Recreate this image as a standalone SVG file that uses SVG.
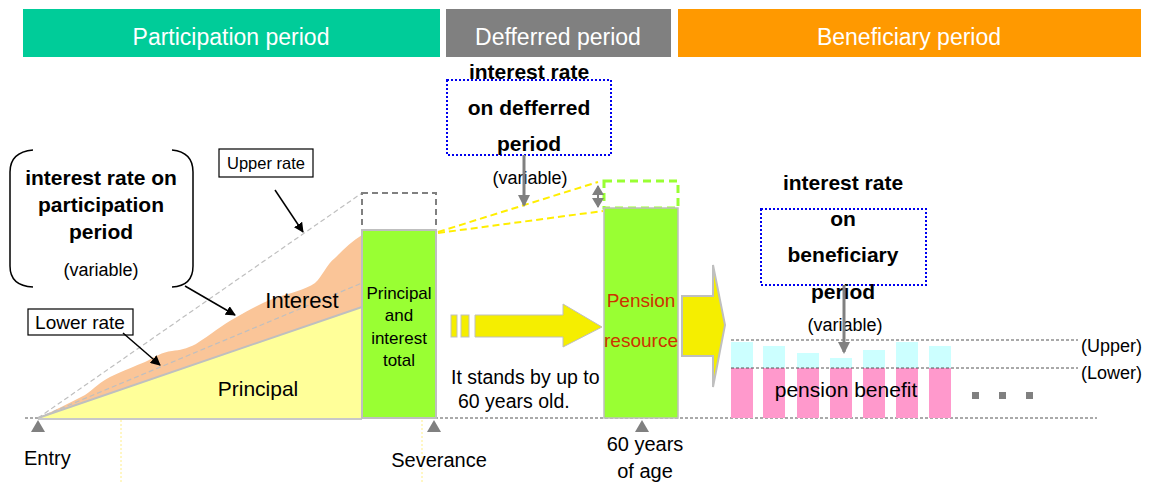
<svg xmlns="http://www.w3.org/2000/svg" width="1157" height="484" viewBox="0 0 1157 484">
<defs>
<style>
text{font-family:"Liberation Sans",Arial,sans-serif;}
.hdr{fill:#fff;font-size:23px;text-anchor:middle;}
.b{font-weight:bold;font-size:21px;text-anchor:middle;fill:#000;}
.n{font-size:17px;fill:#000;}
.v{font-size:18px;fill:#000;text-anchor:middle;}
.c{text-anchor:middle;}
.tri{fill:#808080;}
.ax{stroke:#555;stroke-width:1;stroke-dasharray:3,2;fill:none;}
.ydot{stroke:#FFEE88;stroke-width:1;stroke-dasharray:2,2;}
</style>
<marker id="ab" markerWidth="10" markerHeight="10" refX="9" refY="5" orient="auto" markerUnits="userSpaceOnUse" viewBox="0 0 10 10"><path d="M0,0 L10,5 L0,10 z" fill="#000"/></marker>
<marker id="ag" markerWidth="12" markerHeight="12" refX="10" refY="6" orient="auto" markerUnits="userSpaceOnUse" viewBox="0 0 12 12"><path d="M0,0 L12,6 L0,12 z" fill="#808080"/></marker>
<marker id="ag2" markerWidth="10" markerHeight="12" refX="9" refY="6" orient="auto-start-reverse" markerUnits="userSpaceOnUse" viewBox="0 0 10 12"><path d="M0,0 L10,6 L0,12 z" fill="#808080"/></marker>
</defs>
<rect width="1157" height="484" fill="#fff"/>

<g id="headers">
<rect x="23" y="9" width="417" height="48" fill="#00CC99"/>
<text class="hdr" x="231" y="45">Participation period</text>
<rect x="446" y="9" width="225" height="48" fill="#808080"/>
<text class="hdr" x="558" y="45">Defferred period</text>
<rect x="678" y="9" width="463" height="48" fill="#FF9900"/>
<text class="hdr" x="909" y="45">Beneficiary period</text>
</g>

<g id="axis">
<line class="ydot" x1="121" y1="420" x2="121" y2="484"/>
<line class="ydot" x1="422" y1="420" x2="422" y2="484"/>
<line class="ax" x1="25" y1="418" x2="1097" y2="418"/>
<polygon class="tri" points="31,432 38,420 45,432"/>
<polygon class="tri" points="427,432 434,420 441,432"/>
<polygon class="tri" points="635,432 642,420 649,432"/>
<text x="24" y="465" style="font-size:20px">Entry</text>
<text x="439" y="467" class="c" style="font-size:20px">Severance</text>
<text x="645" y="451" class="c" style="font-size:20px">60 years</text>
<text x="645" y="478" class="c" style="font-size:20px">of age</text>
</g>

<g id="participation">
<path d="M38,418 C55,410 70,403 85,395 C95,388 100,382 110,377 C125,370 135,366 145,362 C155,357 162,352 172,351 C180,350 186,349 196,344 C210,335 222,325 235,318 C250,309 260,304 275,298 C290,293 305,290 315,283 C322,277 326,265 335,258 C344,249 352,241 362,235 L362,307 Z" fill="#FAC598"/>
<polygon points="38,418 362,307 362,418" fill="#FFFF99"/>
<line x1="38" y1="418" x2="362" y2="307" stroke="#BFBFBF" stroke-width="2"/>
<line x1="38" y1="419" x2="362" y2="419" stroke="#C8C8C8" stroke-width="2"/>
<line x1="38" y1="418" x2="362" y2="193" stroke="#BFBFBF" stroke-width="1.2" stroke-dasharray="5,3"/>
<line x1="38" y1="418" x2="362" y2="283" stroke="#BFBFBF" stroke-width="1.2" stroke-dasharray="5,3"/>
<text x="302" y="308" class="c" style="font-size:22px">Interest</text>
<text x="258" y="396" class="c" style="font-size:21px">Principal</text>
</g>

<g id="total-box">
<rect x="362" y="193" width="74" height="37" fill="none" stroke="#808080" stroke-width="2" stroke-dasharray="6,4"/>
<rect x="362" y="230" width="74" height="188" fill="#99FF33" stroke="#BFBFBF" stroke-width="2"/>
<text class="n c" x="399" y="299">Principal</text>
<text class="n c" x="399" y="321">and</text>
<text class="n c" x="399" y="344">interest</text>
<text class="n c" x="399" y="366">total</text>
</g>

<g id="participation-rate">
<path d="M33,150 Q10,152 10,172 L10,266 Q10,286 33,287" fill="none" stroke="#000" stroke-width="1.5"/>
<path d="M172,150 Q193,152 193,172 L193,266 Q193,286 172,287" fill="none" stroke="#000" stroke-width="1.5"/>
<text class="b" x="101" y="185">interest rate on</text>
<text class="b" x="101" y="212">participation</text>
<text class="b" x="101" y="239">period</text>
<text class="v" x="101" y="276">(variable)</text>
</g>

<g id="upper-rate">
<rect x="219" y="149" width="94" height="28" fill="#fff" stroke="#000" stroke-width="1.2"/>
<text class="c" x="266" y="169" style="font-size:16.5px">Upper rate</text>
</g>
<g id="lower-rate">
<rect x="28" y="309" width="105" height="26" fill="#fff" stroke="#000" stroke-width="1.2"/>
<text class="c" x="80" y="329" style="font-size:19px">Lower rate</text>
</g>

<g id="deferred-rate">
<rect x="447" y="80" width="164" height="75" fill="none" stroke="#0000EE" stroke-width="2" stroke-dasharray="2,2"/>
<text class="b" x="529" y="79">interest rate</text>
<text class="b" x="529" y="115">on defferred</text>
<text class="b" x="529" y="151">period</text>
<text class="v" x="530" y="184">(variable)</text>
</g>

<g id="pension-resource">
<rect x="604" y="181" width="74" height="27" fill="none" stroke="#99FF33" stroke-width="3" stroke-dasharray="8,5"/>
<rect x="604" y="208" width="74" height="210" fill="#99FF33" stroke="#BFBFBF" stroke-width="1.5"/>
<text class="c" x="641" y="307" style="font-size:19px;fill:#CC3300">Pension</text>
<text class="c" x="641" y="347" style="font-size:19px;fill:#CC3300">resource</text>
</g>

<g id="standby">
<rect x="451" y="315" width="6" height="22" fill="#F5EE00" stroke="#BFBFBF" stroke-width="1"/>
<rect x="461" y="315" width="8" height="22" fill="#F5EE00" stroke="#BFBFBF" stroke-width="1"/>
<polygon points="475,315 563,315 563,304 602,327 563,347 563,337 475,337" fill="#F5EE00" stroke="#BFBFBF" stroke-width="1"/>
<text x="451" y="384" style="font-size:19.5px">It stands by up to</text>
<text x="458" y="408" style="font-size:19.5px">60 years old.</text>
</g>

<g id="big-arrow">
<polygon points="682,296 713,296 713,265 725,325 713,387 713,356 682,356" fill="#F5EE00" stroke="#BFBFBF" stroke-width="2"/>
</g>

<g id="benefits">
<rect x="731" y="342" width="22" height="26" fill="#CCFFFF"/>
<rect x="763" y="346" width="22" height="22" fill="#CCFFFF"/>
<rect x="797" y="353" width="22" height="15" fill="#CCFFFF"/>
<rect x="830" y="358" width="22" height="10" fill="#CCFFFF"/>
<rect x="863" y="350" width="22" height="18" fill="#CCFFFF"/>
<rect x="896" y="342" width="22" height="26" fill="#CCFFFF"/>
<rect x="929" y="346" width="22" height="22" fill="#CCFFFF"/>
<rect x="731" y="368" width="22" height="50" fill="#FF99CC"/>
<rect x="763" y="368" width="22" height="50" fill="#FF99CC"/>
<rect x="797" y="368" width="22" height="50" fill="#FF99CC"/>
<rect x="830" y="368" width="22" height="50" fill="#FF99CC"/>
<rect x="863" y="368" width="22" height="50" fill="#FF99CC"/>
<rect x="896" y="368" width="22" height="50" fill="#FF99CC"/>
<rect x="929" y="368" width="22" height="50" fill="#FF99CC"/>
<line class="ax" x1="731" y1="340" x2="1078" y2="340"/>
<line class="ax" x1="731" y1="368" x2="1078" y2="368"/>
<text x="1081" y="352" style="font-size:18px">(Upper)</text>
<text x="1081" y="379" style="font-size:18px">(Lower)</text>
<text class="c" x="846" y="397" style="font-size:21px">pension benefit</text>
<rect x="972" y="392" width="7" height="7" fill="#808080"/>
<rect x="999" y="392" width="7" height="7" fill="#808080"/>
<rect x="1026" y="392" width="7" height="7" fill="#808080"/>
</g>

<g id="beneficiary-rate">
<rect x="761" y="209" width="165" height="76" fill="none" stroke="#0000EE" stroke-width="2" stroke-dasharray="2,2"/>
<text class="b" x="843" y="190">interest rate</text>
<text class="b" x="843" y="226">on</text>
<text class="b" x="843" y="262">beneficiary</text>
<text class="b" x="843" y="299">period</text>
<text class="v" x="845" y="331">(variable)</text>
</g>

<g id="connectors">
<line x1="275" y1="190" x2="303" y2="232" stroke="#000" stroke-width="1.5" marker-end="url(#ab)"/>
<line x1="123" y1="333" x2="160" y2="365" stroke="#000" stroke-width="1.5" marker-end="url(#ab)"/>
<line x1="185" y1="286" x2="235" y2="315" stroke="#000" stroke-width="1.5" marker-end="url(#ab)"/>
<line x1="438" y1="232" x2="598" y2="182" stroke="#FFEE00" stroke-width="2" stroke-dasharray="7,4"/>
<line x1="438" y1="233" x2="603" y2="211" stroke="#FFEE00" stroke-width="2" stroke-dasharray="7,4"/>
<line x1="524" y1="155" x2="524" y2="205" stroke="#808080" stroke-width="3" marker-end="url(#ag)"/>
<line x1="598" y1="186" x2="598" y2="207" stroke="#808080" stroke-width="2" marker-start="url(#ag2)" marker-end="url(#ag2)"/>
<line x1="844" y1="285" x2="844" y2="352" stroke="#808080" stroke-width="3" marker-end="url(#ag)"/>
</g>
</svg>
